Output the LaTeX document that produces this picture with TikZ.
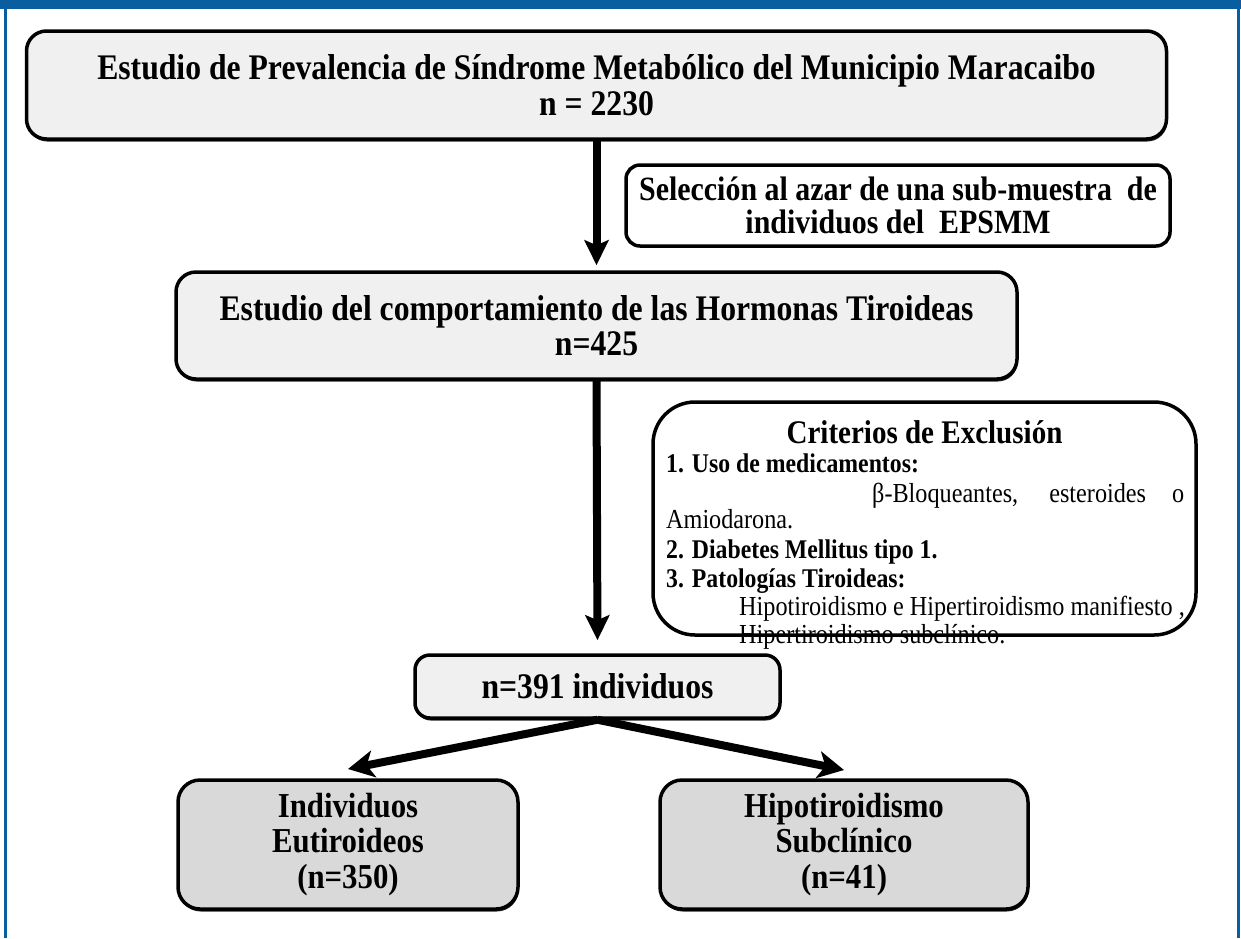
\documentclass[tikz,border=0pt]{standalone}
\usepackage{fontspec}
\setmainfont{Liberation Serif}[FakeStretch=0.88]
\usetikzlibrary{arrows.meta,shadows}
\definecolor{frameblue}{RGB}{8,94,158}
\definecolor{boxgray}{RGB}{240,240,240}
\definecolor{botgray}{RGB}{217,217,217}
\tikzset{
  flowbox/.style={draw=black, line width=3.5pt, rounded corners=20pt, fill=boxgray, align=center, inner sep=0pt},
  gbox/.style={flowbox, drop shadow={shadow xshift=0.8pt, shadow yshift=-2.5pt, fill=black!85, opacity=1}},
  wbox/.style={flowbox, fill=white},
  crittxt/.style={inner sep=0pt, anchor=base west},
  varr/.style={line width=8pt, -{Stealth[length=25pt,width=24pt,inset=5pt]}},
  darr/.style={line width=8pt, -{Stealth[length=26pt,width=27pt,inset=7pt]}},
}
\begin{document}
\begin{tikzpicture}[x=1pt,y=-1pt]
\useasboundingbox (0,0) rectangle (1241,938);
% frame
\fill[frameblue] (0,0) rectangle (1241,9);
\draw[frameblue, line width=2.5pt] (5.3,0) -- (5.3,938);
\draw[frameblue, line width=2.5pt] (1238.3,0) -- (1238.3,938);

% boxes
\node[gbox, minimum width=1140pt, minimum height=108pt,
      font=\bfseries\fontsize{36pt}{36pt}\selectfont] (b1) at (596.5,85)
  {Estudio de Prevalencia de Síndrome Metabólico del Municipio Maracaibo\\n = 2230};

\node[wbox, rounded corners=14pt, minimum width=544pt, minimum height=81pt,
      font=\bfseries\fontsize{34pt}{33pt}\selectfont] (sel) at (898,205.5)
  {Selección al azar de una sub-muestra\ \ de\\individuos del\ \ EPSMM};

\node[gbox, minimum width=841pt, minimum height=107pt,
      font=\bfseries\fontsize{36pt}{35pt}\selectfont] (b2) at (596.5,325.5)
  {Estudio del comportamiento de las Hormonas Tiroideas\\n=425};

\node[wbox, rounded corners=42pt, minimum width=543pt, minimum height=233pt] (crit) at (924.5,518.5) {};

\node[inner sep=0pt, anchor=base, font=\bfseries\fontsize{33pt}{36pt}\selectfont] (ct0) at (924.5,443) {Criterios de Exclusión};
\node[crittxt, font=\bfseries\fontsize{27pt}{30pt}\selectfont] (ct1) at (666,472) {1. Uso de medicamentos:};
\node[crittxt, font=\fontsize{27.5pt}{30pt}\selectfont] (ct2) at (872,502) {\makebox[312pt][s]{β-Bloqueantes, esteroides o}};
\node[crittxt, font=\fontsize{27.5pt}{30pt}\selectfont] (ct3) at (666,528) {Amiodarona.};
\node[crittxt, font=\bfseries\fontsize{27pt}{30pt}\selectfont] (ct4) at (666,558) {2. Diabetes Mellitus tipo 1.};
\node[crittxt, font=\bfseries\fontsize{27pt}{30pt}\selectfont] (ct5) at (666,587) {3. Patologías Tiroideas:};
\node[crittxt, font=\fontsize{27.5pt}{30pt}\selectfont] (ct6) at (739,615) {Hipotiroidismo e Hipertiroidismo manifiesto ,};
\node[crittxt, font=\fontsize{27.5pt}{30pt}\selectfont] (ct7) at (739,643) {Hipertiroidismo subclínico.};

\node[gbox, rounded corners=15pt, minimum width=365pt, minimum height=63pt,
      font=\bfseries\fontsize{36pt}{36pt}\selectfont] (b3) at (597.5,686.5)
  {n=391 individuos};

\node[gbox, fill=botgray, rounded corners=22pt, minimum width=340pt, minimum height=129pt,
      font=\bfseries\fontsize{35pt}{35.5pt}\selectfont] (b4) at (348,844.5)
  {Individuos\\Eutiroideos\\(n=350)};

\node[gbox, fill=botgray, rounded corners=22pt, minimum width=368pt, minimum height=129pt,
      font=\bfseries\fontsize{35pt}{35.5pt}\selectfont] (b5) at (844,844.5)
  {Hipotiroidismo\\Subclínico\\(n=41)};

% connectors
\coordinate (tl) at (348,769);
\coordinate (tr) at (844,770);
\draw[varr, shorten >=5pt] (b1.south) -- (b2.north);
\draw[varr, shorten >=13pt] (b2.south) -- (b3.north);
\draw[darr] (b3.south) -- (tl);
\draw[darr] (b3.south) -- (tr);
\end{tikzpicture}
\end{document}
